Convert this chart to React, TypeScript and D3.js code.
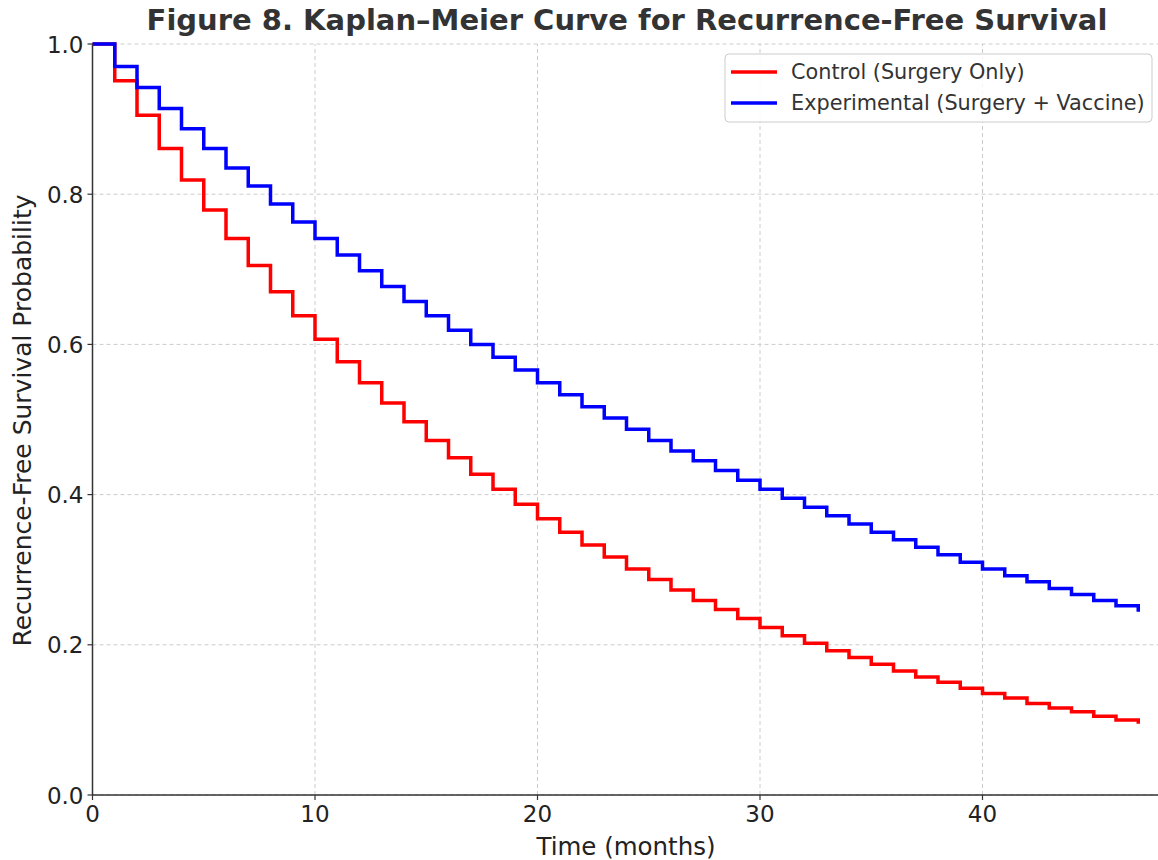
import { useEffect, useRef } from 'react';
import * as d3 from 'd3';

// months 0..47
const months = d3.range(0, 48);
const controlSurv = [
  1.0, 0.951, 0.905, 0.861, 0.819, 0.779, 0.741, 0.705, 0.670, 0.638,
  0.607, 0.577, 0.549, 0.522, 0.497, 0.472, 0.449, 0.427, 0.407, 0.387,
  0.368, 0.350, 0.333, 0.317, 0.301, 0.287, 0.273, 0.259, 0.247, 0.235,
  0.223, 0.212, 0.202, 0.192, 0.183, 0.174, 0.165, 0.157, 0.150, 0.142,
  0.135, 0.129, 0.122, 0.116, 0.111, 0.105, 0.100, 0.095,
];
const expSurv = [
  1.0, 0.970, 0.942, 0.914, 0.887, 0.861, 0.835, 0.811, 0.787, 0.763,
  0.741, 0.719, 0.698, 0.677, 0.657, 0.638, 0.619, 0.600, 0.583, 0.566,
  0.549, 0.533, 0.517, 0.502, 0.487, 0.472, 0.458, 0.445, 0.432, 0.419,
  0.407, 0.395, 0.383, 0.372, 0.361, 0.350, 0.340, 0.330, 0.320, 0.310,
  0.301, 0.292, 0.284, 0.275, 0.267, 0.259, 0.252, 0.244,
];
const seriesNames = ['Control (Surgery Only)', 'Experimental (Surgery + Vaccine)'];
const seriesColors = ['#ff0000', '#0000ff'];
const xTicks = [0, 10, 20, 30, 40];
const yTicks = [0, 0.2, 0.4, 0.6, 0.8, 1.0];

const W = 1158;
const H = 860;
const FONT = 'DejaVu Sans, sans-serif';

export default function App() {
  const ref = useRef<SVGSVGElement>(null);

  useEffect(() => {
    const svg = d3.select(ref.current);
    svg.selectAll('*').remove();

    const x = d3.scaleLinear().domain([0, 48]).range([92.5, 1160.5]);
    const y = d3.scaleLinear().domain([0, 1]).range([795, 44]);

    // grid
    const grid = svg.append('g');
    xTicks.forEach((t) => {
      grid.append('line')
        .attr('x1', x(t)).attr('x2', x(t)).attr('y1', y(0)).attr('y2', y(1))
        .attr('stroke', '#cccccc').attr('stroke-width', 1).attr('stroke-dasharray', '4,3');
    });
    yTicks.forEach((t) => {
      grid.append('line')
        .attr('x1', x(0)).attr('x2', W).attr('y1', y(t)).attr('y2', y(t))
        .attr('stroke', '#cccccc').attr('stroke-width', 1).attr('stroke-dasharray', '4,3');
    });

    // step curves
    const line = d3.line<[number, number]>()
      .x((d) => x(d[0]))
      .y((d) => y(d[1]))
      .curve(d3.curveStepAfter);
    [controlSurv, expSurv].forEach((vals, i) => {
      const pts: [number, number][] = months.map((m, j) => [m, vals[j]]);
      svg.append('path')
        .datum(pts)
        .attr('d', line)
        .attr('fill', 'none')
        .attr('stroke', seriesColors[i])
        .attr('stroke-width', 3.5);
    });

    // axes (left + bottom spines only)
    svg.append('line')
      .attr('x1', x(0)).attr('x2', x(0)).attr('y1', y(0)).attr('y2', y(1))
      .attr('stroke', '#333').attr('stroke-width', 1.5);
    svg.append('line')
      .attr('x1', x(0)).attr('x2', W).attr('y1', y(0)).attr('y2', y(0))
      .attr('stroke', '#333').attr('stroke-width', 1.5);

    xTicks.forEach((t) => {
      svg.append('line')
        .attr('x1', x(t)).attr('x2', x(t)).attr('y1', y(0)).attr('y2', y(0) + 5)
        .attr('stroke', '#333').attr('stroke-width', 1.2);
      svg.append('text')
        .attr('x', x(t)).attr('y', y(0) + 27)
        .attr('text-anchor', 'middle')
        .attr('font-family', FONT).attr('font-size', 23).attr('fill', '#222')
        .text(String(t));
    });
    yTicks.forEach((t) => {
      svg.append('line')
        .attr('x1', x(0) - 5).attr('x2', x(0)).attr('y1', y(t)).attr('y2', y(t))
        .attr('stroke', '#333').attr('stroke-width', 1.2);
      svg.append('text')
        .attr('x', x(0) - 9).attr('y', y(t) + 8.5)
        .attr('text-anchor', 'end')
        .attr('font-family', FONT).attr('font-size', 23).attr('fill', '#222')
        .text(t.toFixed(1));
    });

    // axis labels
    svg.append('text')
      .attr('x', 626).attr('y', 855)
      .attr('text-anchor', 'middle')
      .attr('font-family', FONT).attr('font-size', 24.5).attr('fill', '#222')
      .text('Time (months)');
    svg.append('text')
      .attr('transform', 'translate(31,420.5) rotate(-90)')
      .attr('text-anchor', 'middle')
      .attr('font-family', FONT).attr('font-size', 25).attr('fill', '#222')
      .text('Recurrence-Free Survival Probability');

    // title
    svg.append('text')
      .attr('x', 627).attr('y', 30)
      .attr('text-anchor', 'middle')
      .attr('font-family', FONT).attr('font-weight', 'bold')
      .attr('font-size', 29).attr('fill', '#333')
      .text('Figure 8. Kaplan–Meier Curve for Recurrence-Free Survival');

    // legend
    const lg = svg.append('g');
    lg.append('rect')
      .attr('x', 725).attr('y', 54).attr('width', 427).attr('height', 68)
      .attr('rx', 4)
      .attr('fill', 'white').attr('fill-opacity', 0.85)
      .attr('stroke', '#cccccc').attr('stroke-width', 1);
    seriesNames.forEach((name, i) => {
      const cy = 72 + i * 31;
      lg.append('line')
        .attr('x1', 731).attr('x2', 777).attr('y1', cy).attr('y2', cy)
        .attr('stroke', seriesColors[i]).attr('stroke-width', 3.5);
      lg.append('text')
        .attr('x', 791).attr('y', cy + 7)
        .attr('font-family', FONT).attr('font-size', 20.8).attr('fill', '#333')
        .text(name);
    });
  }, []);

  return (
    <svg
      ref={ref}
      width={W}
      height={H}
      style={{ position: 'absolute', left: 0, top: 0, background: 'white' }}
    />
  );
}
